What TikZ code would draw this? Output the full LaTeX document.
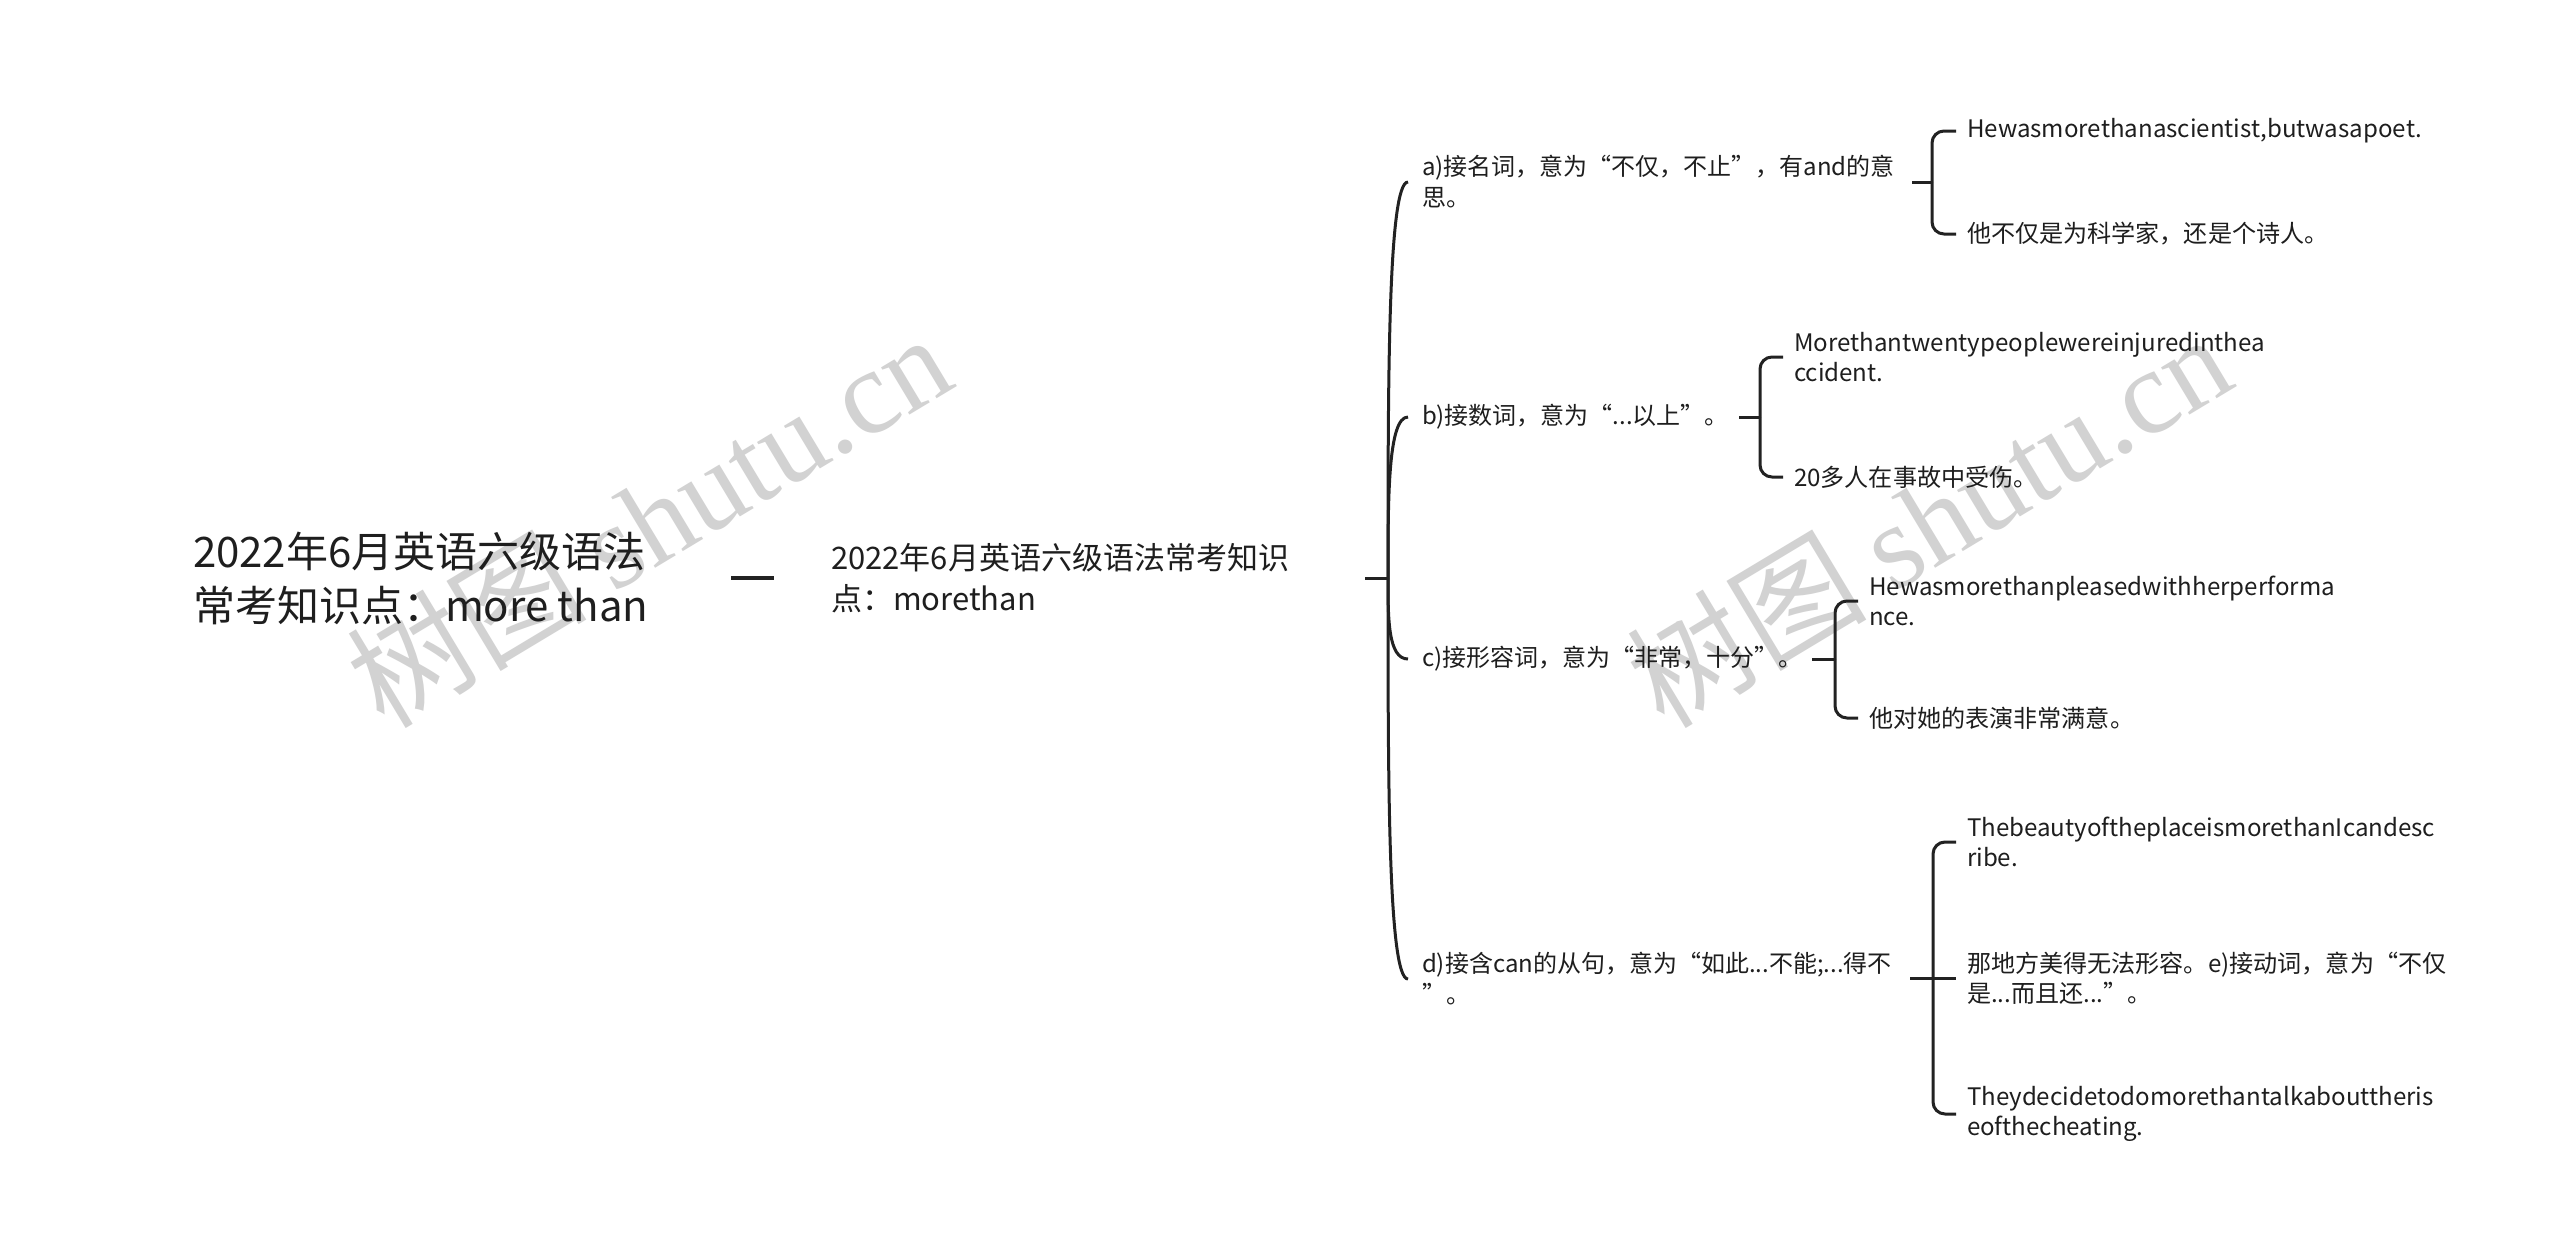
\documentclass[tikz,border=0pt]{standalone}
\usepackage{fontspec}
\setmainfont{Noto Sans CJK SC}
\newfontfamily\wmserif{Liberation Serif}
\usetikzlibrary{calc}
\definecolor{txt}{HTML}{1E1E1E}
\definecolor{ln}{HTML}{222222}
\definecolor{wm}{HTML}{D2D2D2}
\begin{document}
\begin{tikzpicture}[x=1pt,y=-1pt,
  every node/.style={inner ysep=0pt, outer sep=0pt, text=txt, align=left, anchor=west},
  rootnode/.style={font=\fontsize{42}{54}\selectfont, inner xsep=0pt},
  lonenode/.style={font=\fontsize{31}{41}\selectfont, inner xsep=0pt},
  kid/.style={font=\fontsize{24}{31}\selectfont, inner xsep=14pt},
  leaf/.style={font=\fontsize{24.1}{30}\selectfont, inner xsep=11pt},
  conn/.style={draw=ln, line width=3pt},
  wmark/.style={text=wm, rotate=31, anchor=center, inner sep=0pt, font=\fontsize{120}{120}\selectfont}
]
\useasboundingbox[fill=white] (0,0) rectangle (2560,1259);

% watermarks
\node[wmark] (wm1) at (648,519) {树图 {\wmserif shutu.cn}};
\node[wmark] (wm2) at (1928,519) {树图 {\wmserif shutu.cn}};

% root and level 1
\node[rootnode] (root) at (193,578) {2022年6月英语六级语法\\常考知识点：more than};
\node[lonenode] (l1) at (831,578) {2022年6月英语六级语法常考知识\\点：morethan};
\coordinate (d0a) at (731,578);
\coordinate (d0b) at (774,578);
\draw[conn, line width=3.4pt] (d0a) -- (d0b);

\coordinate (s1) at (1365,578);
\coordinate (h1) at (1388,578);
\draw[conn] (s1) -- (h1);

% level 2
\node[kid] (a) at (1408,182) {a)接名词，意为“不仅，不止”，有and的意\\思。};
\node[kid] (b) at (1408,417) {b)接数词，意为“...以上”。};
\node[kid] (c) at (1408,659) {c)接形容词，意为“非常，十分”。};
\node[kid] (d) at (1408,979) {d)接含can的从句，意为“如此...不能;...得不\\”。};

\foreach \k in {a,b,c,d}{
  \draw[conn] (h1) .. controls ($(h1)!0.5!(h1|-\k.west)$) and (h1|-\k.west) .. (\k.west);
}

% level 3 hubs
\coordinate (sa) at (1912,182); \coordinate (ha) at (1932,182);
\coordinate (sb) at (1739,417); \coordinate (hb) at (1760,417);
\coordinate (sc) at (1812,659); \coordinate (hc) at (1835,659);
\coordinate (sd) at (1910,978); \coordinate (hd) at (1933,978);
\draw[conn] (sa) -- (ha);
\draw[conn] (sb) -- (hb);
\draw[conn] (sc) -- (hc);
\draw[conn] (sd) -- (hd);

% leaves
\node[leaf] (a1) at (1956,131) {Hewasmorethanascientist,butwasapoet.};
\node[leaf] (a2) at (1956,234) {他不仅是为科学家，还是个诗人。};
\node[leaf] (b1) at (1783,357) {Morethantwentypeoplewereinjuredinthea\\ccident.};
\node[leaf] (b2) at (1783,477) {20多人在事故中受伤。};
\node[leaf] (c1) at (1858,601) {Hewasmorethanpleasedwithherperforma\\nce.};
\node[leaf] (c2) at (1858,718) {他对她的表演非常满意。};
\node[leaf] (d1) at (1956,842) {ThebeautyoftheplaceismorethanIcandesc\\ribe.};
\node[leaf] (d2) at (1956,978) {那地方美得无法形容。e)接动词，意为“不仅\\是...而且还...”。};
\node[leaf] (d3) at (1956,1114) {Theydecidetodomorethantalkabouttheris\\eofthecheating.};

\draw[conn, rounded corners=12pt] (ha) |- (a1.west);
\draw[conn, rounded corners=12pt] (ha) |- (a2.west);
\draw[conn, rounded corners=12pt] (hb) |- (b1.west);
\draw[conn, rounded corners=12pt] (hb) |- (b2.west);
\draw[conn, rounded corners=12pt] (hc) |- (c1.west);
\draw[conn, rounded corners=12pt] (hc) |- (c2.west);
\draw[conn, rounded corners=12pt] (hd) |- (d1.west);
\draw[conn] (hd) -- (d2.west);
\draw[conn, rounded corners=12pt] (hd) |- (d3.west);
\end{tikzpicture}
\end{document}
